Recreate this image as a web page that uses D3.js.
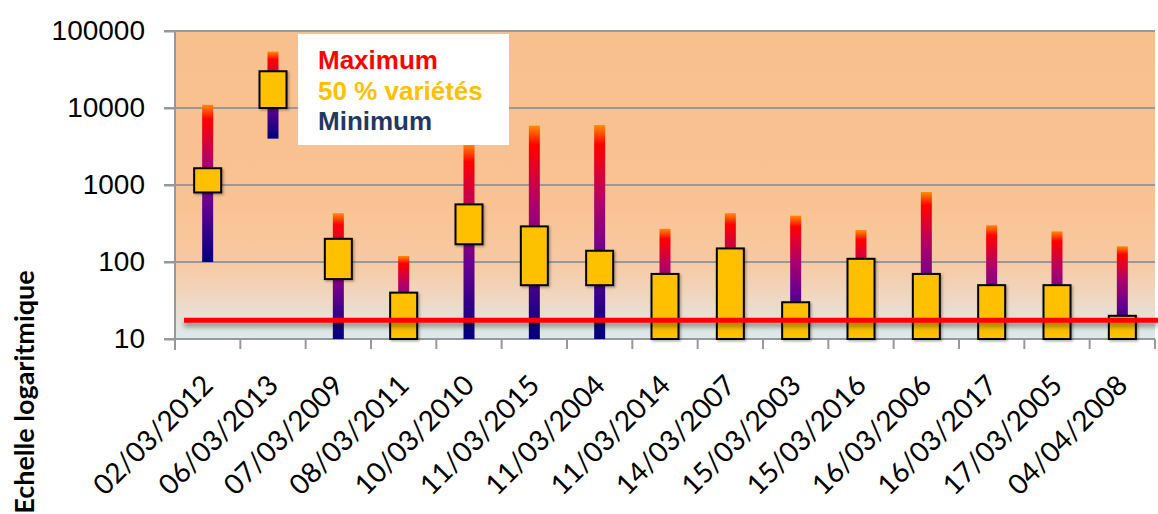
<!DOCTYPE html>
<html>
<head>
<meta charset="utf-8">
<script src="https://cdn.jsdelivr.net/npm/d3@7"></script>
<style>
  body { margin: 0; background: #fff; }
  svg { display: block; }
</style>
</head>
<body>
<svg width="1158" height="514"></svg>
<script>
// dates (categories)
dates = ["02/03/2012", "06/03/2013", "07/03/2009", "08/03/2011", "10/03/2010",
         "11/03/2015", "11/03/2004", "11/03/2014", "14/03/2007", "15/03/2003",
         "15/03/2016", "16/03/2006", "16/03/2017", "17/03/2005", "04/04/2008"];

// maximum / minimum (vertical lines)
maxVals = [11000, 54000, 430, 120, 3400, 5900, 6000, 270, 430, 400, 260, 810, 300, 250, 160];
minVals = [100, 4000, 10, 10, 10, 10, 10, 10, 10, 10, 10, 10, 10, 10, 10];

// 50 % variétés (boxes)
boxLow  = [800, 10000, 60, 10, 170, 50, 50, 10, 10, 10, 10, 10, 10, 10, 10];
boxHigh = [1650, 30000, 200, 40, 560, 290, 140, 70, 150, 30, 110, 70, 50, 50, 20];

// red horizontal threshold
threshold = 17.5;

yTicks = [10, 100, 1000, 10000, 100000];
legendLabels = ["Maximum", "50 % variétés", "Minimum"];
legendColors = ["#ff0000", "#ffc000", "#1f3864"];

sample = dates.map((d, i) => ({
    date: d, max: maxVals[i], min: minVals[i], lo: boxLow[i], hi: boxHigh[i]
}));

// note: "top" is taken by window.top, so plot* names
W = 1158;
H = 514;
plotLeft = 175;
plotRight = 1155;
plotTop = 31;
plotBottom = 339;

svg = d3.select('svg');
defs = svg.append('defs');

// plot background gradient
bg = defs.append('linearGradient')
    .attr('id', 'bg')
    .attr('x1', 0).attr('y1', 0).attr('x2', 0).attr('y2', 1);
bg.append('stop').attr('offset', 0).attr('stop-color', '#f9c08f');
bg.append('stop').attr('offset', 0.55).attr('stop-color', '#f9c292');
bg.append('stop').attr('offset', 0.75).attr('stop-color', '#f7c9a2');
bg.append('stop').attr('offset', 0.88).attr('stop-color', '#eed9c5');
bg.append('stop').attr('offset', 1).attr('stop-color', '#dceaed');

// min-max line gradient
lg = defs.append('linearGradient')
    .attr('id', 'range')
    .attr('x1', 0).attr('y1', 0).attr('x2', 0).attr('y2', 1);
lg.append('stop').attr('offset', 0).attr('stop-color', '#ff8c00');
lg.append('stop').attr('offset', 0.09).attr('stop-color', '#ff0000');
lg.append('stop').attr('offset', 0.14).attr('stop-color', '#f20012');
lg.append('stop').attr('offset', 0.36).attr('stop-color', '#b0006a');
lg.append('stop').attr('offset', 0.62).attr('stop-color', '#680090');
lg.append('stop').attr('offset', 1).attr('stop-color', '#00007e');

shadow = defs.append('filter').attr('id', 'shadow')
    .attr('filterUnits', 'userSpaceOnUse')
    .attr('x', 0).attr('y', 300).attr('width', W).attr('height', 40);
shadow.append('feDropShadow')
    .attr('dx', 0).attr('dy', 4).attr('stdDeviation', 2.5)
    .attr('flood-color', '#000').attr('flood-opacity', 0.4);

boxShadow = defs.append('filter').attr('id', 'boxshadow')
    .attr('x', '-20%').attr('y', '-20%').attr('width', '150%').attr('height', '150%');
boxShadow.append('feDropShadow')
    .attr('dx', 1.5).attr('dy', 1.5).attr('stdDeviation', 1.2)
    .attr('flood-color', '#000').attr('flood-opacity', 0.3);

xScale = d3.scaleBand()
    .range([plotLeft, plotRight])
    .domain(dates)
    .padding(0);

yScale = d3.scaleLog()
    .range([plotBottom, plotTop])
    .domain([10, 100000]);

// background
svg.append('rect')
    .attr('x', plotLeft).attr('y', plotTop)
    .attr('width', plotRight - plotLeft).attr('height', plotBottom - plotTop)
    .attr('fill', 'url(#bg)');

// horizontal grid lines
svg.append('g')
    .selectAll('line')
    .data(yTicks.slice(1))
    .enter()
    .append('line')
    .attr('x1', plotLeft - 11)
    .attr('x2', plotRight)
    .attr('y1', (d) => yScale(d))
    .attr('y2', (d) => yScale(d))
    .attr('stroke', '#989898')
    .attr('stroke-width', 2);

// y axis
yAxis = svg.append('g')
    .attr('transform', `translate(${plotLeft}, 0)`)
    .call(d3.axisLeft(yScale).tickValues(yTicks).tickFormat(d3.format('d')).tickSize(11).tickPadding(19));
yAxis.select('.domain').attr('stroke', '#989898').attr('stroke-width', 2)
    .attr('d', `M0,${plotTop}V${plotBottom + 11}`);
yAxis.selectAll('.tick line').attr('stroke', '#989898').attr('stroke-width', 2);
yAxis.selectAll('.tick text')
    .attr('font-family', 'Liberation Sans, Arial, sans-serif')
    .attr('font-size', 28)
    .attr('fill', '#000');

// x axis
xAxis = svg.append('g')
    .attr('transform', `translate(0, ${plotBottom})`);
xAxis.append('line')
    .attr('x1', plotLeft - 11).attr('x2', plotRight)
    .attr('y1', 0).attr('y2', 0)
    .attr('stroke', '#989898').attr('stroke-width', 2);
xAxis.selectAll('.xtick')
    .data(dates)
    .enter()
    .append('line')
    .attr('class', 'xtick')
    .attr('x1', (d) => xScale(d) + xScale.bandwidth())
    .attr('x2', (d) => xScale(d) + xScale.bandwidth())
    .attr('y1', 0).attr('y2', 10)
    .attr('stroke', '#989898').attr('stroke-width', 2);

xAxis.selectAll('.xlabel')
    .data(dates)
    .enter()
    .append('text')
    .attr('class', 'xlabel')
    .attr('text-anchor', 'end')
    .attr('font-family', 'Lato, sans-serif')
    .attr('font-size', 28)
    .attr('fill', '#000')
    .attr('transform', (d) => `translate(${xScale(d) + xScale.bandwidth() / 2 + 7}, 48) rotate(-45)`)
    .text((d) => d);

barGroups = svg.selectAll('.bar')
    .data(sample)
    .enter()
    .append('g')
    .attr('class', 'bar');

lineW = 11;
boxW = 27;

// min-max vertical lines
barGroups.append('rect')
    .attr('x', (g) => xScale(g.date) + xScale.bandwidth() / 2 - lineW / 2)
    .attr('y', (g) => yScale(g.max))
    .attr('width', lineW)
    .attr('height', (g) => yScale(g.min) - yScale(g.max))
    .attr('fill', 'url(#range)');

// 50 % boxes
barGroups.append('rect')
    .attr('x', (g) => xScale(g.date) + xScale.bandwidth() / 2 - boxW / 2)
    .attr('y', (g) => yScale(g.hi))
    .attr('width', boxW)
    .attr('height', (g) => yScale(g.lo) - yScale(g.hi))
    .attr('fill', '#ffc000')
    .attr('stroke', '#000')
    .attr('stroke-width', 2)
    .attr('filter', 'url(#boxshadow)');

// threshold line
svg.append('line')
    .attr('x1', plotLeft + 9)
    .attr('x2', W)
    .attr('y1', yScale(threshold))
    .attr('y2', yScale(threshold))
    .attr('stroke', '#ff0000')
    .attr('stroke-width', 5)
    .attr('filter', 'url(#shadow)');

// legend
legend = svg.append('g');
legend.append('rect')
    .attr('x', 298).attr('y', 34)
    .attr('width', 211).attr('height', 111)
    .attr('fill', '#fff');
legend.selectAll('text')
    .data(legendLabels)
    .enter()
    .append('text')
    .attr('x', 318)
    .attr('y', (d, i) => 69 + i * 30.5)
    .attr('font-family', 'Liberation Sans, Arial, sans-serif')
    .attr('font-weight', 'bold')
    .attr('font-size', 26)
    .attr('fill', (d, i) => legendColors[i])
    .text((d) => d);

// y axis title
svg.append('text')
    .attr('transform', 'translate(34, 392) rotate(-90)')
    .attr('text-anchor', 'middle')
    .attr('font-family', 'Lato, sans-serif')
    .attr('font-weight', 'bold')
    .attr('font-size', 27)
    .attr('fill', '#000')
    .text('Echelle logaritmique');
</script>
</body>
</html>
